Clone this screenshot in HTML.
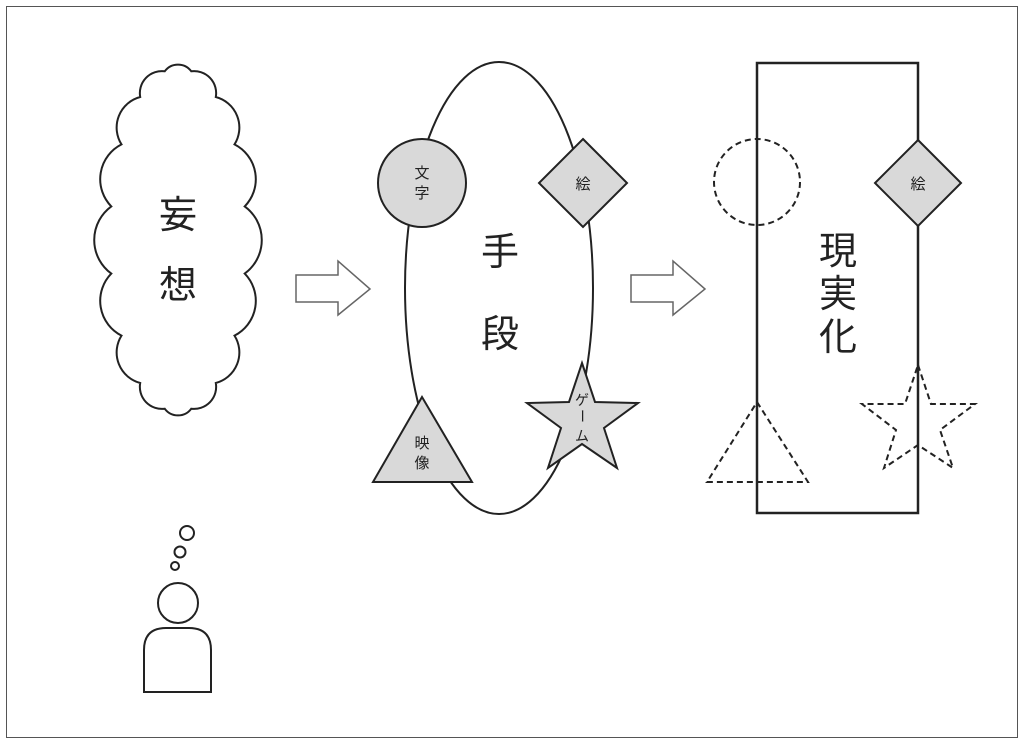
<!DOCTYPE html>
<html><head><meta charset="utf-8"><style>
body{margin:0;background:#fff}
svg{display:block}
text{font-family:"Liberation Sans","Noto Sans CJK JP",sans-serif;fill:#222}
</style></head><body>
<svg width="1024" height="745" viewBox="0 0 1024 745" xmlns="http://www.w3.org/2000/svg">
<rect x="6.5" y="6.5" width="1011" height="731" fill="#fff" stroke="#555" stroke-width="1"/>
<path id="cloud" d="" fill="#fff" stroke="#222" stroke-width="2"/>
<text x="178" y="228" font-size="38" text-anchor="middle">妄</text>
<text x="178" y="298" font-size="38" text-anchor="middle">想</text>
<g fill="#fff" stroke="#222" stroke-width="2">
<circle cx="187" cy="533" r="7"/><circle cx="180" cy="552" r="5.5"/><circle cx="175" cy="566" r="4"/>
<circle cx="178" cy="603" r="20"/>
<path d="M144 692 V650 Q144 628 166 628 H189 Q211 628 211 650 V692 Z"/>
</g>
<g fill="#fff" stroke="#666" stroke-width="1.5">
<path d="M296 275 H338 V261 L370 289 L338 315 V302 H296 Z"/>
<path d="M631 275 H673 V261 L705 289 L673 315 V302 H631 Z"/>
</g>
<ellipse cx="499" cy="288" rx="94" ry="226" fill="#fff" stroke="#222" stroke-width="2"/>
<g fill="#d9d9d9" stroke="#222" stroke-width="2">
<circle cx="422" cy="183" r="44"/>
<path d="M583 139 L627 183 L583 227 L539 183 Z"/>
<path d="M422 397 L472 482 L373 482 Z"/>
<path d="M582 363 L595 402 L638 403 L604 428 L617 468 L582 444 L548 468 L561 428 L527 403 L569 402 Z"/>
</g>
<text x="422" y="178" font-size="15" text-anchor="middle">文</text>
<text x="422" y="198" font-size="15" text-anchor="middle">字</text>
<text x="583" y="189" font-size="15" text-anchor="middle">絵</text>
<text x="422" y="448" font-size="15" text-anchor="middle">映</text>
<text x="422" y="468" font-size="15" text-anchor="middle">像</text>
<text x="582" y="405" font-size="14" text-anchor="middle">ゲ</text>
<text x="582" y="421" font-size="14" text-anchor="middle" transform="rotate(90 582 416)">ー</text>
<text x="582" y="441" font-size="14" text-anchor="middle">ム</text>
<text x="500" y="265" font-size="38" text-anchor="middle">手</text>
<text x="500" y="347" font-size="38" text-anchor="middle">段</text>
<rect x="757" y="63" width="161" height="450" fill="none" stroke="#222" stroke-width="2.5"/>
<g fill="none" stroke="#222" stroke-width="2" stroke-dasharray="6 4">
<circle cx="757" cy="182" r="43"/>
<path d="M757 402 L808 482 L707 482 Z"/>
<path d="M918 365 L931 404 L975 404 L940 430 L953 468 L918 445 L884 468 L896 430 L862 404 L905 404 Z"/>
</g>
<path d="M918 140 L961 183 L918 226 L875 183 Z" fill="#d9d9d9" stroke="#222" stroke-width="2"/>
<text x="918" y="189" font-size="15" text-anchor="middle">絵</text>
<text x="838" y="264" font-size="38" text-anchor="middle">現</text>
<text x="838" y="307" font-size="38" text-anchor="middle">実</text>
<text x="838" y="350" font-size="38" text-anchor="middle">化</text>
</svg>
<script>
(function(){
var cx=178,cy=240,rx=68,ry=172,n=16,pts=[];
for(var i=0;i<n;i++){var a=2*Math.PI*(i+0.5)/n;pts.push([cx+rx*Math.sin(a),cy-ry*Math.cos(a)]);}
var d='M'+pts[0][0].toFixed(1)+' '+pts[0][1].toFixed(1);
for(var i=1;i<=n;i++){var p=pts[i%n],q=pts[i-1];var c=Math.hypot(p[0]-q[0],p[1]-q[1]);var r=c*0.62;
d+=' A'+r.toFixed(1)+' '+r.toFixed(1)+' 0 0 1 '+p[0].toFixed(1)+' '+p[1].toFixed(1);}
document.getElementById('cloud').setAttribute('d',d+' Z');
})();
</script>
</body></html>
